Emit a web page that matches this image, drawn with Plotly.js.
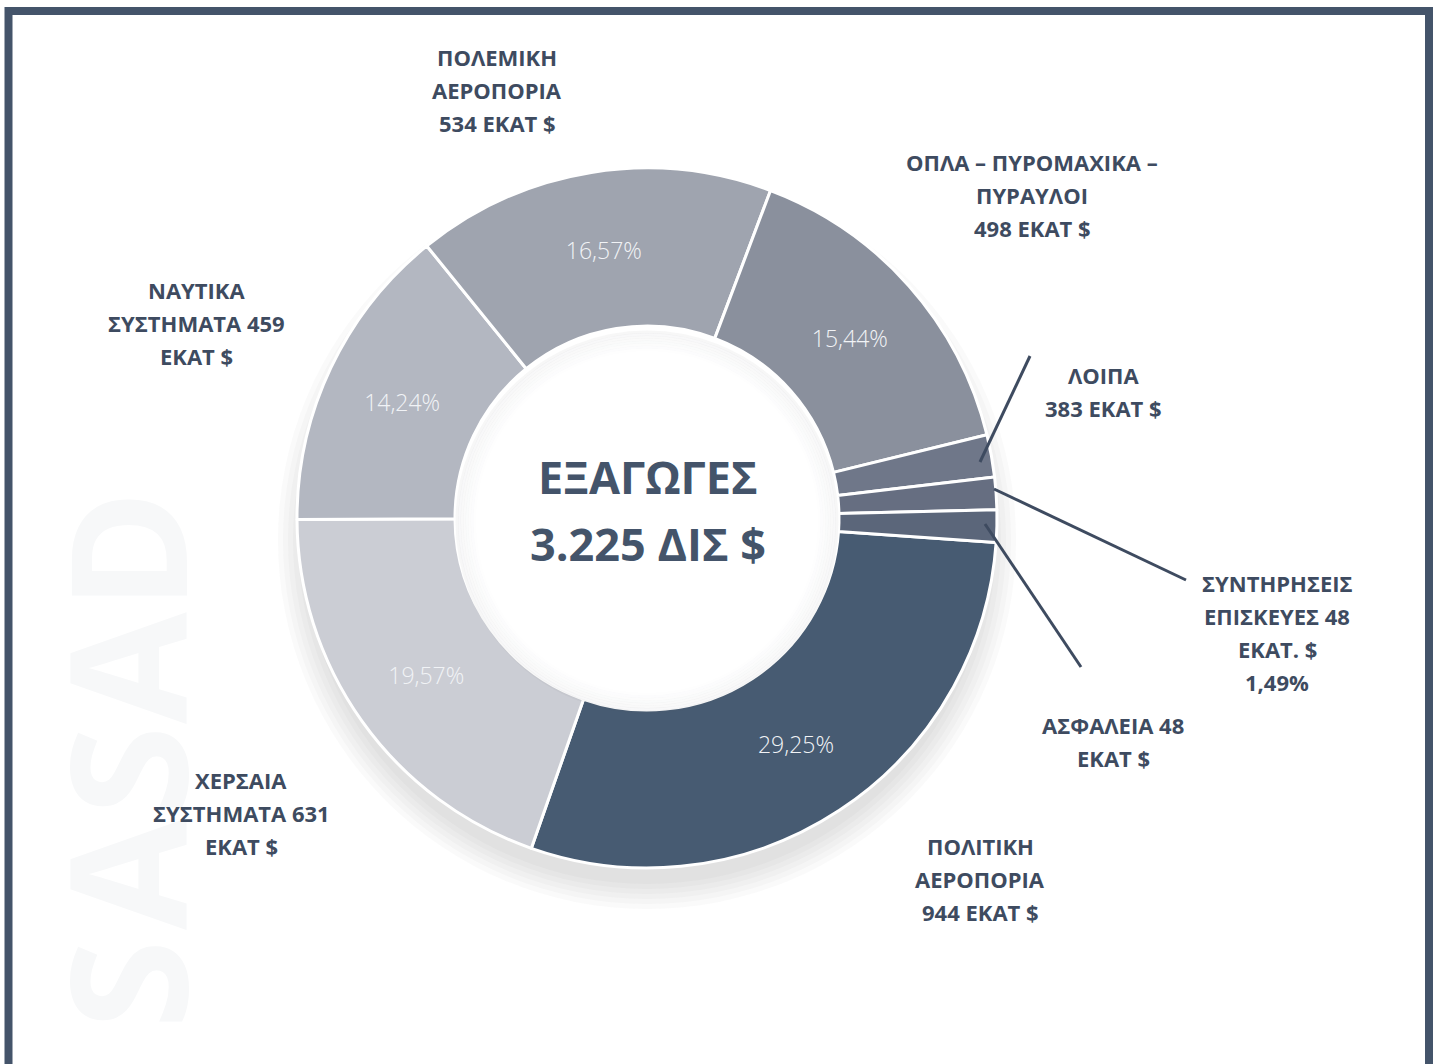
<!DOCTYPE html>
<html>
<head>
<meta charset="utf-8">
<script src="https://cdn.plot.ly/plotly-3.0.1.min.js"></script>
<style>
html,body{margin:0;padding:0;background:#ffffff;}
#chart{width:1438px;height:1064px;}
</style>
</head>
<body>
<div id="chart"></div>
<script>
// ---- data ----
const categories = ['ΠΟΛΙΤΙΚΗ ΑΕΡΟΠΟΡΙΑ','ΧΕΡΣΑΙΑ ΣΥΣΤΗΜΑΤΑ','ΝΑΥΤΙΚΑ ΣΥΣΤΗΜΑΤΑ','ΠΟΛΕΜΙΚΗ ΑΕΡΟΠΟΡΙΑ','ΟΠΛΑ – ΠΥΡΟΜΑΧΙΚΑ – ΠΥΡΑΥΛΟΙ','ΛΟΙΠΑ','ΣΥΝΤΗΡΗΣΕΙΣ ΕΠΙΣΚΕΥΕΣ','ΑΣΦΑΛΕΙΑ'];
const sharePct = [29.25, 19.57, 14.24, 16.57, 15.44, 1.95, 1.49, 1.49];
const showPctInside = [true, true, true, true, true, false, false, false];
const sliceColors = ['#475b72','#cbcdd4','#b3b7c1','#9fa4af','#8a909d','#6f7789','#666e81','#5b667a'];

const labelLines = [
  ['ΠΟΛΙΤΙΚΗ','ΑΕΡΟΠΟΡΙΑ','944 ΕΚΑΤ $'],
  ['ΧΕΡΣΑΙΑ','ΣΥΣΤΗΜΑΤΑ 631','ΕΚΑΤ $'],
  ['ΝΑΥΤΙΚΑ','ΣΥΣΤΗΜΑΤΑ 459','ΕΚΑΤ $'],
  ['ΠΟΛΕΜΙΚΗ','ΑΕΡΟΠΟΡΙΑ','534 ΕΚΑΤ $'],
  ['ΟΠΛΑ – ΠΥΡΟΜΑΧΙΚΑ –','ΠΥΡΑΥΛΟΙ','498 ΕΚΑΤ $'],
  ['ΛΟΙΠΑ','383 ΕΚΑΤ $'],
  ['ΣΥΝΤΗΡΗΣΕΙΣ','ΕΠΙΣΚΕΥΕΣ 48','ΕΚΑΤ. $','1,49%'],
  ['ΑΣΦΑΛΕΙΑ 48','ΕΚΑΤ $']
];
const centerLines = ['ΕΞΑΓΩΓΕΣ','3.225 ΔΙΣ $'];
const watermarkLetters = ['S','A','S','A','D'];

// ---- layout helpers (pixel -> paper) ----
const W = 1438, H = 1064;
const px = x => x / W;
const py = y => 1 - y / H;
const textColor = '#3e4b60';

const pctText = sharePct.map((v, i) => showPctInside[i] ? v.toFixed(2).replace('.', ',') + '%' : '');

// label anchor positions (centre x, first line y) and pointer lines
const labelPos = [[980,846],[241,780],[196,290],[497,57],[1032,162],[1103,375],[1277,583],[1113,725]];
const lineStep = 33;
const pointers = [
  [1030,356,980,462],
  [994,489,1186,580],
  [985,524,1081,667]
];
// watermark letter centres (y, bottom to top)
const wmY = [985, 874, 771, 668, 550];

const cx = 647, cy = 518, R = 350, rHole = 192;

const trace = {
  type: 'pie',
  labels: categories,
  values: sharePct,
  text: pctText,
  textinfo: 'text',
  textposition: showPctInside.map(s => s ? 'inside' : 'none'),
  insidetextorientation: 'horizontal',
  insidetextfont: {family: 'Open Sans, sans-serif', size: 23, color: '#f1f3f6', weight: 300},
  sort: false,
  direction: 'clockwise',
  rotation: 94,
  hole: rHole / R,
  marker: {colors: sliceColors, line: {color: '#ffffff', width: 3}},
  domain: {x: [px(cx - R), px(cx + R)], y: [py(cy + R), py(cy - R)]},
  showlegend: false,
  hoverinfo: 'label+percent'
};

const annotations = [];
// watermark
watermarkLetters.forEach((ch, i) => {
  annotations.push({
    xref: 'paper', yref: 'paper', x: px(124), y: py(wmY[i]), text: ch, showarrow: false,
    textangle: -90, font: {family: 'Open Sans, sans-serif', size: 162, color: '#f7f8f9', weight: 700},
    xanchor: 'center', yanchor: 'middle'
  });
});
labelLines.forEach((lines, i) => {
  lines.forEach((t, j) => {
    annotations.push({
      xref: 'paper', yref: 'paper', x: px(labelPos[i][0]), y: py(labelPos[i][1] + j * lineStep),
      text: '<b>' + t + '</b>', showarrow: false, xanchor: 'center', yanchor: 'middle',
      font: {family: 'Open Sans, sans-serif', size: 22, color: textColor}
    });
  });
});
centerLines.forEach((t, j) => {
  annotations.push({
    xref: 'paper', yref: 'paper', x: px(648), y: py(477 + j * 66),
    text: '<b>' + t + '</b>', showarrow: false, xanchor: 'center', yanchor: 'middle',
    font: {family: 'Open Sans, sans-serif', size: 45, color: '#44546a'}
  });
});

const shapes = [];
// soft shadow under the ring
for (let k = 0; k < 6; k++) {
  const r = R - 6 + k * 5;
  const oy = 22;
  shapes.push({type: 'circle', xref: 'paper', yref: 'paper', layer: 'below',
    x0: px(cx - r), x1: px(cx + r), y0: py(cy + oy + r), y1: py(cy + oy - r),
    fillcolor: 'rgba(80,80,90,0.03)', line: {width: 0}});
}
// keep the hole white
shapes.push({type: 'circle', xref: 'paper', yref: 'paper', layer: 'below',
  x0: px(cx - rHole - 2), x1: px(cx + rHole + 2), y0: py(cy + rHole + 2), y1: py(cy - rHole - 2),
  fillcolor: '#ffffff', line: {width: 0}});
// inner hole shading
for (let k = 0; k < 8; k++) {
  const r = rHole - 2 - k * 2.5;
  shapes.push({type: 'circle', xref: 'paper', yref: 'paper', layer: 'above',
    x0: px(cx - r), x1: px(cx + r), y0: py(cy + 4 + r), y1: py(cy + 4 - r),
    fillcolor: 'rgba(0,0,0,0)', line: {width: 3, color: 'rgba(90,95,105,' + (0.05 - k * 0.006).toFixed(3) + ')'}});
}
pointers.forEach(p => {
  shapes.push({type: 'line', xref: 'paper', yref: 'paper',
    x0: px(p[0]), y0: py(p[1]), x1: px(p[2]), y1: py(p[3]),
    line: {color: textColor, width: 3}});
});
// frame
shapes.push({type: 'rect', xref: 'paper', yref: 'paper',
  x0: px(8.5), x1: px(1429), y0: py(1068), y1: py(11),
  line: {color: '#44546a', width: 8}, fillcolor: 'rgba(0,0,0,0)'});

const layout = {
  width: W, height: H,
  margin: {l: 0, r: 0, t: 0, b: 0},
  paper_bgcolor: '#ffffff', plot_bgcolor: '#ffffff',
  showlegend: false,
  annotations: annotations,
  shapes: shapes,
  font: {family: 'Open Sans, sans-serif'}
};

Plotly.newPlot('chart', [trace], layout, {displayModeBar: false, staticPlot: true});
</script>
</body>
</html>
